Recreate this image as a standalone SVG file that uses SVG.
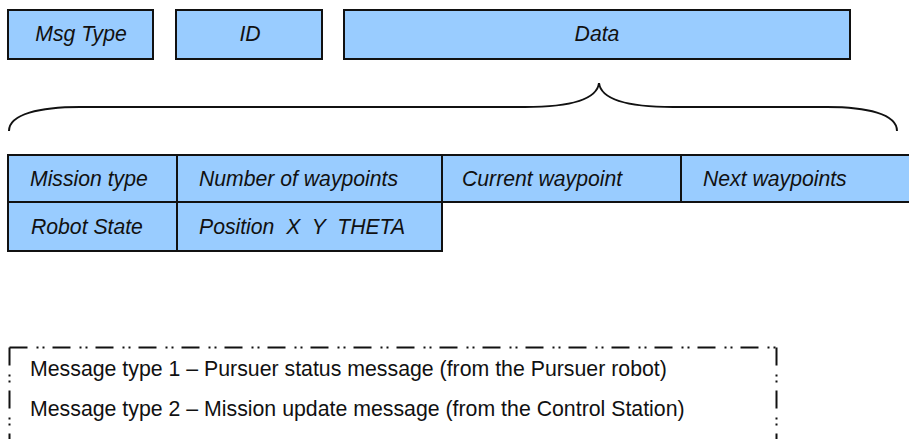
<svg xmlns="http://www.w3.org/2000/svg" width="909" height="439" viewBox="0 0 909 439">
<style>
.box{fill:#99CCFF;stroke:#111;stroke-width:2}
.t{font-family:"Liberation Sans",Arial,sans-serif;font-style:italic;font-size:21.2px;fill:#111}
.c{text-anchor:middle}
.l{font-family:"Liberation Sans",Arial,sans-serif;font-size:21.3px;fill:#111}
.dash{fill:none;stroke:#111;stroke-width:2;stroke-dasharray:18 9 2 4 2 8}
</style>
<rect width="909" height="439" fill="#fff"/>
<g id="msgtype"><rect class="box" x="8" y="10" width="145" height="49"/><text class="t c" x="81" y="41">Msg Type</text></g>
<g id="id"><rect class="box" x="176" y="10" width="146" height="49"/><text class="t c" x="250" y="41">ID</text></g>
<g id="data"><rect class="box" x="344" y="10" width="506" height="49"/><text class="t c" x="597" y="41">Data</text></g>
<g id="connectors"><path d="M9,131 C9,114 40,107 80,107 L525,107 C574,107 597,99 599,83 C601,99 624,107 673,107 L827,107 C867,107 897,114 897,131" fill="none" stroke="#111" stroke-width="2"/></g>
<g id="mission-type"><rect class="box" x="8" y="155" width="169" height="47"/><text class="t" x="30" y="186">Mission type</text></g>
<g id="num-waypoints"><rect class="box" x="177" y="155" width="265" height="47"/><text class="t" x="199" y="186">Number of waypoints</text></g>
<g id="current-waypoint"><rect class="box" x="442" y="155" width="239" height="47"/><text class="t" x="462" y="186">Current waypoint</text></g>
<g id="next-waypoints"><path d="M910,155 L681,155 L681,202 L910,202" class="box"/><text class="t" x="703" y="186">Next waypoints</text></g>
<g id="robot-state"><rect class="box" x="8" y="202" width="169" height="49"/><text class="t" x="31" y="234">Robot State</text></g>
<g id="position"><rect class="box" x="177" y="202" width="265" height="49"/><text class="t" x="199" y="234" xml:space="preserve">Position  X  Y  THETA</text></g>
<g id="legend">
<path class="dash" d="M9.5,347.5 L776.5,347.5"/>
<path class="dash" d="M9.5,347.5 L9.5,440"/>
<path class="dash" d="M776.5,347.5 L776.5,440"/>
<text class="l" x="30" y="376">Message type 1 – Pursuer status message (from the Pursuer robot)</text>
<text class="l" x="30" y="416">Message type 2 – Mission update message (from the Control Station)</text>
</g>
</svg>
